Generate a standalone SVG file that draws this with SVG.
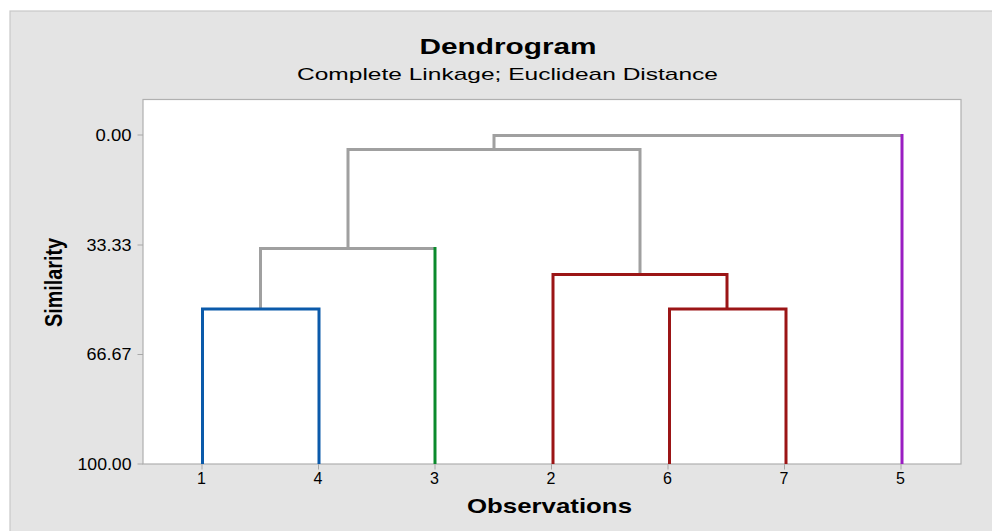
<svg xmlns="http://www.w3.org/2000/svg" width="992" height="531" viewBox="0 0 992 531">
<style>
.t{font-family:"Liberation Sans",Arial,sans-serif;fill:#000}
.ax{font-size:16px;text-anchor:end}
.xl{font-size:16px;text-anchor:middle}
.g{stroke:#a0a0a0;stroke-width:3;fill:none;stroke-linejoin:miter}
.tick{stroke:#a8a8a8;stroke-width:1}
</style>
<rect x="10" y="11" width="990" height="530" fill="#e4e4e4" stroke="#c8c8c8" stroke-width="1.2"/>
<rect x="143" y="99.5" width="818" height="364.5" fill="#ffffff" stroke="#b0b0b0" stroke-width="1.2"/>
<text class="t" x="508" y="54" font-size="22" font-weight="bold" text-anchor="middle" textLength="177" lengthAdjust="spacingAndGlyphs">Dendrogram</text>
<text class="t" x="507.5" y="80" font-size="17" text-anchor="middle" textLength="421" lengthAdjust="spacingAndGlyphs">Complete Linkage; Euclidean Distance</text>
<text class="t" transform="translate(62,282.5) rotate(-90)" font-size="24" font-weight="bold" text-anchor="middle" textLength="89" lengthAdjust="spacingAndGlyphs">Similarity</text>
<text class="t" x="549.5" y="512.5" font-size="21" font-weight="bold" text-anchor="middle" textLength="165" lengthAdjust="spacingAndGlyphs">Observations</text>
<g id="y-axis">
<line class="tick" x1="137.5" y1="135" x2="143" y2="135"/>
<line class="tick" x1="137.5" y1="245" x2="143" y2="245"/>
<line class="tick" x1="137.5" y1="354.5" x2="143" y2="354.5"/>
<line class="tick" x1="137.5" y1="464" x2="143" y2="464"/>
<text class="t ax" x="131.5" y="140.7" textLength="36" lengthAdjust="spacingAndGlyphs">0.00</text>
<text class="t ax" x="131.5" y="250.7" textLength="45" lengthAdjust="spacingAndGlyphs">33.33</text>
<text class="t ax" x="131.5" y="360.2" textLength="45" lengthAdjust="spacingAndGlyphs">66.67</text>
<text class="t ax" x="131.5" y="469.7" textLength="54" lengthAdjust="spacingAndGlyphs">100.00</text>
</g>
<g id="x-axis">
<line class="tick" x1="202" y1="464" x2="202" y2="469.5"/>
<line class="tick" x1="318.5" y1="464" x2="318.5" y2="469.5"/>
<line class="tick" x1="435" y1="464" x2="435" y2="469.5"/>
<line class="tick" x1="551.5" y1="464" x2="551.5" y2="469.5"/>
<line class="tick" x1="668" y1="464" x2="668" y2="469.5"/>
<line class="tick" x1="784.5" y1="464" x2="784.5" y2="469.5"/>
<line class="tick" x1="901" y1="464" x2="901" y2="469.5"/>
<text class="t xl" x="201.5" y="484">1</text>
<text class="t xl" x="318" y="484">4</text>
<text class="t xl" x="434.5" y="484">3</text>
<text class="t xl" x="551" y="484">2</text>
<text class="t xl" x="667.5" y="484">6</text>
<text class="t xl" x="784" y="484">7</text>
<text class="t xl" x="900.5" y="484">5</text>
</g>
<g id="connectors">
<polyline class="g" points="260.5,309 260.5,248.5 435,248.5"/>
<polyline class="g" points="348,248.5 348,149.5 640,149.5 640,274.5"/>
<polyline class="g" points="494,149.5 494,135.5 902,135.5"/>
<polyline fill="none" stroke="#0b5aaa" stroke-width="3" points="202.5,464 202.5,309 319,309 319,464"/>
<line stroke="#0a8a2c" stroke-width="3" x1="435" y1="247" x2="435" y2="464"/>
<polyline fill="none" stroke="#9b1516" stroke-width="3" points="553,464 553,274.5 727,274.5 727,309"/>
<polyline fill="none" stroke="#9b1516" stroke-width="3" points="669.5,464 669.5,309 786,309 786,464"/>
<line stroke="#9a1ec2" stroke-width="3" x1="902" y1="134" x2="902" y2="464"/>
</g>
</svg>
